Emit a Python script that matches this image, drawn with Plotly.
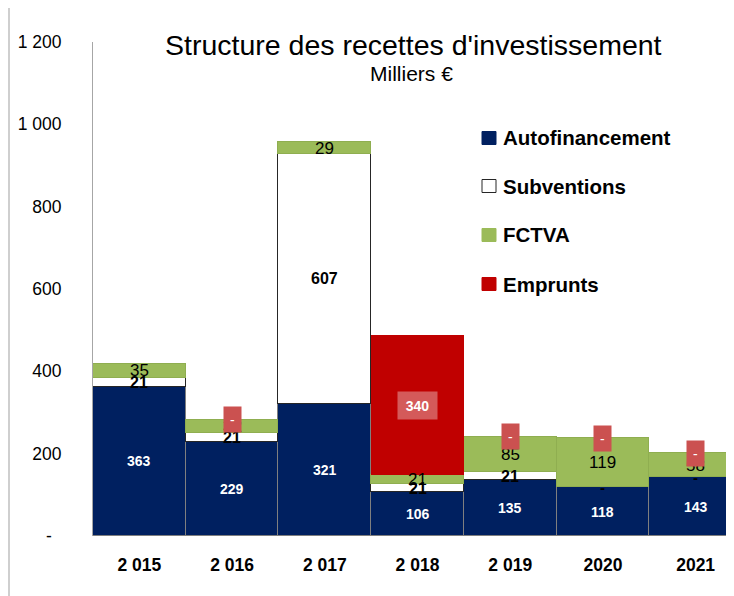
import plotly.graph_objects as go

years = ["2 015", "2 016", "2 017", "2 018", "2 019", "2020", "2021"]
autofinancement = [363, 229, 321, 106, 135, 118, 143]
subventions = [21, 21, 607, 21, 21, 0, 0]
fctva = [35, 32, 29, 21, 85, 119, 58]
emprunts = [None, 0, None, 340, 0, 0, 0]

y_ticks = [0, 200, 400, 600, 800, 1000, 1200]
y_ticktext = ["-\u00a0\u00a0", "200", "400", "600", "800", "1 000", "1 200"]

NAVY = "#002060"
GREEN = "#9BBB59"
RED = "#C00000"
FONT = "Liberation Sans"

# page layout (body has an 8px margin)
ML, MT, MB = 85, 34, 68
W, H = 734, 596
PL, PT = 8 + ML, 8 + MT
PW = W - ML
PH = H - MT - MB


def px(x):
    return (x - PL) / PW


def py(y):
    return (PT + PH - y) / PH


fig = go.Figure()
series = [
    ("Autofinancement", autofinancement, NAVY, "#7F7F7F", 1),
    ("Subventions", subventions, "white", "#262626", 1),
    ("FCTVA", fctva, GREEN, "#8FAE50", 1),
    ("Emprunts", emprunts, RED, RED, 0),
]
for name, vals, col, lc, lw in series:
    fig.add_trace(go.Bar(
        x=years, y=vals, name=name, showlegend=False,
        marker=dict(color=col, line=dict(color=lc, width=lw)),
        hoverinfo="skip",
    ))

ann = []
for i, yr in enumerate(years):
    base = 0
    a = autofinancement[i]
    ann.append(dict(x=i, y=base + a / 2, text=str(a), showarrow=False,
                    font=dict(family=FONT, size=14, color="white", weight="bold")))
    base += a
    s = subventions[i]
    ann.append(dict(x=i, y=base + s / 2, text=str(s) if s else "-", showarrow=False,
                    font=dict(family=FONT, size=16 if s else 15, color="black", weight="bold")))
    base += s
    f = fctva[i]
    ann.append(dict(x=i, y=base + f / 2, text=str(f), showarrow=False,
                    font=dict(family=FONT, size=17, color="black")))
    base += f
    e = emprunts[i]
    if e is None:
        continue
    if e:
        ann.append(dict(x=i, y=base + e / 2, text=str(e), showarrow=False,
                        bgcolor="#D45A5A", width=37, height=25,
                        font=dict(family=FONT, size=14, color="white", weight="bold")))
    else:
        ann.append(dict(x=i, y=base, text="-", showarrow=False,
                        bgcolor="#CB5150", width=15, height=23,
                        font=dict(family=FONT, size=14, color="white")))

ann.append(dict(xref="paper", yref="paper", x=px(413), y=py(45), yanchor="middle",
                text="Structure des recettes d'investissement", showarrow=False,
                font=dict(family=FONT, size=28.5, color="black")))
ann.append(dict(xref="paper", yref="paper", x=px(411), y=py(74), yanchor="middle",
                text="Milliers €", showarrow=False,
                font=dict(family=FONT, size=21, color="black")))

shapes = [dict(type="line", xref="paper", yref="paper",
               x0=px(9), x1=px(9), y0=py(600), y1=py(-5),
               line=dict(color="#BFBFBF", width=1.5))]

# legend (manual)
leg_y = [138, 186, 235, 284]
for (name, vals, col, lc, lw), ly in zip(series, leg_y):
    shapes.append(dict(type="rect", xref="paper", yref="paper",
                       x0=px(482), x1=px(496), y0=py(ly + 6.5), y1=py(ly - 6.5),
                       fillcolor=col,
                       line=dict(color=lc if name == "Subventions" else col, width=1)))
    ann.append(dict(xref="paper", yref="paper", x=px(501), y=py(ly),
                    xanchor="left", yanchor="middle", text=name, showarrow=False,
                    font=dict(family=FONT, size=20.5, color="black", weight="bold")))

fig.update_layout(
    width=W, height=H,
    margin=dict(l=ML, r=0, t=MT, b=MB),
    plot_bgcolor="white", paper_bgcolor="white",
    barmode="stack", bargap=0,
    annotations=ann, shapes=shapes, showlegend=False,
)
fig.update_xaxes(
    type="category", range=[-0.5, 6.5], showline=False, ticks="",
    tickfont=dict(family=FONT, size=17.5, color="black", weight="bold"),
    ticklabelstandoff=16,
)
fig.update_yaxes(
    range=[0, 1200], tickvals=y_ticks, ticktext=y_ticktext,
    showgrid=False, zeroline=False, showline=True, linecolor="#A6A6A6", linewidth=1,
    ticks="", ticklabelstandoff=27,
    tickfont=dict(family=FONT, size=17.5, color="black"),
)

fig.write_html("out.html")
